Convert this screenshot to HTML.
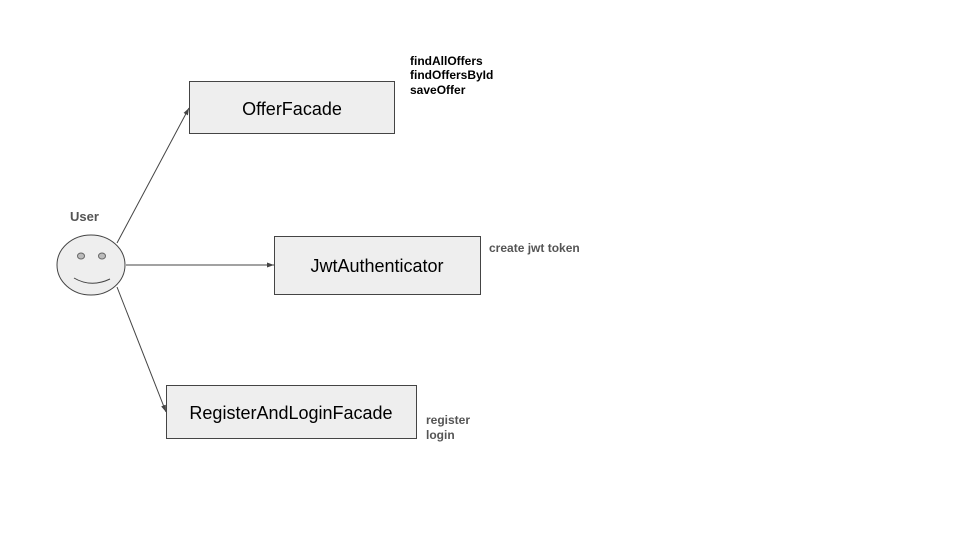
<!DOCTYPE html>
<html><head><style>
body{margin:0;background:#fff;width:960px;height:540px;overflow:hidden}
svg{display:block}
</style></head><body>
<svg width="960" height="540" xmlns="http://www.w3.org/2000/svg" font-family="Liberation Sans, sans-serif">
<defs><marker id="a" markerWidth="8" markerHeight="8" refX="7" refY="4" orient="auto" markerUnits="userSpaceOnUse"><path d="M0,1.5 L7,4 L0,6.5z" fill="#444"/></marker></defs>
<rect x="189.5" y="81.5" width="205" height="52" fill="#eee" stroke="#444"/>
<text x="292" y="115" font-size="18" text-anchor="middle" fill="#000">OfferFacade</text>
<rect x="274.5" y="236.5" width="206" height="58" fill="#eee" stroke="#444"/>
<text x="377" y="272" font-size="18" text-anchor="middle" fill="#000">JwtAuthenticator</text>
<rect x="166.5" y="385.5" width="250" height="53" fill="#eee" stroke="#444"/>
<text x="291" y="419" font-size="18" text-anchor="middle" fill="#000">RegisterAndLoginFacade</text>
<ellipse cx="91" cy="265" rx="34" ry="30" fill="#eee" stroke="#444"/>
<ellipse cx="81" cy="256" rx="3.5" ry="3" fill="#bbb" stroke="#666"/>
<ellipse cx="102" cy="256" rx="3.5" ry="3" fill="#bbb" stroke="#666"/>
<path d="M74,278 Q91,288 110,279" fill="none" stroke="#444"/>
<text x="70" y="221" font-size="13" font-weight="bold" fill="#555">User</text>
<line x1="117" y1="243" x2="189" y2="108" stroke="#444" marker-end="url(#a)"/>
<line x1="126" y1="265" x2="274" y2="265" stroke="#444" marker-end="url(#a)"/>
<line x1="117" y1="287" x2="166" y2="412" stroke="#444" marker-end="url(#a)"/>
<g font-size="12" font-weight="bold" fill="#000">
<text x="410" y="65">findAllOffers</text>
<text x="410" y="79">findOffersById</text>
<text x="410" y="94">saveOffer</text>
</g>
<text x="489" y="252" font-size="12" font-weight="bold" fill="#555">create jwt token</text>
<text x="426" y="424" font-size="12" font-weight="bold" fill="#555">register</text>
<text x="426" y="439" font-size="12" font-weight="bold" fill="#555">login</text>
</svg>
</body></html>
